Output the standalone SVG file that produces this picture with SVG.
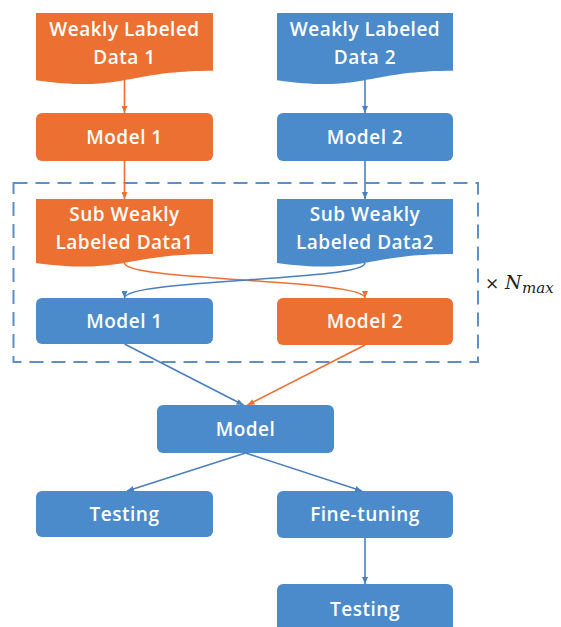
<svg xmlns="http://www.w3.org/2000/svg" width="561" height="627" viewBox="0 0 561 627">
<defs>
<style>
.or{fill:#EC7032}
.bl{fill:#4C8BCB}
.t{font-family:"Open Sans","Liberation Sans",sans-serif;font-weight:600;font-size:19px;fill:#ffffff;text-anchor:middle;letter-spacing:0.5px}
.lo{fill:none;stroke:#EC7032;stroke-width:1.6}
.lb{fill:none;stroke:#4A7FBD;stroke-width:1.6}
.math{font-family:"DejaVu Serif","Liberation Serif",serif;fill:#222222}
</style>
<marker id="ao" markerUnits="userSpaceOnUse" markerWidth="7" markerHeight="6" refX="7" refY="3" orient="auto"><path d="M0,0 L7,3 L0,6 Z" fill="#EC7032"/></marker>
<marker id="ab" markerUnits="userSpaceOnUse" markerWidth="7" markerHeight="6" refX="7" refY="3" orient="auto"><path d="M0,0 L7,3 L0,6 Z" fill="#4A7FBD"/></marker>
</defs>
<rect width="561" height="627" fill="#ffffff"/>

<g id="loop">
<rect x="13.5" y="183" width="464.5" height="179" fill="none" stroke="#5E8EC4" stroke-width="2" stroke-dasharray="14,8"/>
<text class="math" x="485" y="289" font-size="17">×</text>
<text class="math" x="505" y="289" font-size="19" font-style="italic">N</text>
<text class="math" x="522" y="293" font-size="15" font-style="italic">max</text>
</g>

<g id="data1">
<path class="or" d="M36,13 H213 V70.7 C124.5,70.7 124.5,92.7 36,80.2 Z"/>
<text class="t" x="124.5" y="36">Weakly Labeled</text>
<text class="t" x="124.5" y="64">Data 1</text>
</g>
<g id="data2">
<path class="bl" d="M277,13 H453 V70.7 C365,70.7 365,92.7 277,80.2 Z"/>
<text class="t" x="365" y="36">Weakly Labeled</text>
<text class="t" x="365" y="64">Data 2</text>
</g>

<g id="model1a">
<rect class="or" x="36" y="113" width="177" height="48" rx="6"/>
<text class="t" x="124.5" y="144">Model 1</text>
</g>
<g id="model2a">
<rect class="bl" x="277" y="113" width="176" height="48" rx="6"/>
<text class="t" x="365" y="144">Model 2</text>
</g>

<g id="sub1">
<path class="or" d="M36,199 H213 V253.9 C124.5,253.9 124.5,274.8 36,263 Z"/>
<text class="t" x="124.5" y="221">Sub Weakly</text>
<text class="t" x="124.5" y="249">Labeled Data1</text>
</g>
<g id="sub2">
<path class="bl" d="M277,199 H453 V253.9 C365,253.9 365,274.8 277,263 Z"/>
<text class="t" x="365" y="221">Sub Weakly</text>
<text class="t" x="365" y="249">Labeled Data2</text>
</g>

<g id="model1b">
<rect class="bl" x="36" y="298" width="177" height="46" rx="6"/>
<text class="t" x="124.5" y="328">Model 1</text>
</g>
<g id="model2b">
<rect class="or" x="277" y="298" width="176" height="47" rx="6"/>
<text class="t" x="365" y="328">Model 2</text>
</g>

<g id="model">
<rect class="bl" x="157" y="405" width="177" height="48" rx="6"/>
<text class="t" x="245.5" y="436">Model</text>
</g>

<g id="testing1">
<rect class="bl" x="36" y="491" width="177" height="46" rx="6"/>
<text class="t" x="124.5" y="521">Testing</text>
</g>
<g id="finetuning">
<rect class="bl" x="277" y="491" width="176" height="47" rx="6"/>
<text class="t" x="365" y="521">Fine-tuning</text>
</g>
<g id="testing2">
<rect class="bl" x="277" y="584" width="176" height="48" rx="6"/>
<text class="t" x="365" y="616">Testing</text>
</g>

<g id="connectors">
<line class="lo" x1="124.5" y1="80" x2="124.5" y2="113" marker-end="url(#ao)"/>
<line class="lb" x1="365" y1="80" x2="365" y2="113" marker-end="url(#ab)"/>
<line class="lo" x1="124.5" y1="161" x2="124.5" y2="199" marker-end="url(#ao)"/>
<line class="lb" x1="365" y1="161" x2="365" y2="199" marker-end="url(#ab)"/>
<path class="lo" d="M124.5,263 C124.5,281 365,279 365,298" marker-end="url(#ao)"/>
<path class="lb" d="M365,263 C365,281 124.5,279 124.5,298" marker-end="url(#ab)"/>
<line class="lb" x1="124.5" y1="344" x2="243.5" y2="405" marker-end="url(#ab)"/>
<line class="lo" x1="365" y1="345" x2="247.5" y2="405" marker-end="url(#ao)"/>
<line class="lb" x1="245.5" y1="453" x2="127" y2="491" marker-end="url(#ab)"/>
<line class="lb" x1="245.5" y1="453" x2="362" y2="491" marker-end="url(#ab)"/>
<line class="lb" x1="365" y1="538" x2="365" y2="584" marker-end="url(#ab)"/>
</g>
</svg>
